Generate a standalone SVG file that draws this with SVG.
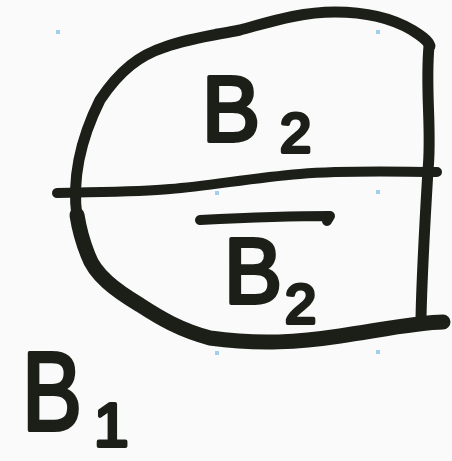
<svg xmlns="http://www.w3.org/2000/svg" width="452" height="461" viewBox="0 0 452 461">
<style>
.ink{fill:none;stroke:#1c1f18;stroke-linecap:round;stroke-linejoin:round}
.lbl{font-family:"Liberation Sans",Arial,sans-serif;fill:#1c1f18;stroke:#1c1f18;stroke-width:4;stroke-linejoin:round}
.dot{fill:#9fd0ee}
</style>
<rect width="452" height="461" fill="#fafafa"/>
<g id="grid">
<rect class="dot" x="56" y="30" width="4" height="4"/>
<rect class="dot" x="215" y="28" width="4" height="4"/>
<rect class="dot" x="376" y="30" width="4" height="4"/>
<rect class="dot" x="55" y="190" width="4" height="4"/>
<rect class="dot" x="215" y="191" width="4" height="4"/>
<rect class="dot" x="376" y="190" width="4" height="4"/>
<rect class="dot" x="215" y="351" width="4" height="4"/>
<rect class="dot" x="376" y="350" width="4" height="4"/>
</g>
<g id="outline">
<path class="ink" stroke-width="11" d="M77,217 C72,180 80,140 100,100 C120,70 140,55 165,47 C190,38 215,35 240,30 C270,22 300,12 335,12 C370,12 395,20 412,30 C420,35 428,40 430,46"/>
<path class="ink" stroke-width="11" d="M429,46 C425,90 432,130 428,170 C425,220 422,270 421,318"/>
<path class="ink" stroke-width="15" d="M443,322 C420,322 380,330 340,336 C300,342 260,345 210,338 C180,330 160,318 140,305 C115,290 95,275 88,255 C82,240 79,228 77,215"/>
</g>
<g id="divider">
<path class="ink" stroke-width="10" d="M57,193 C90,192 140,192 170,189 C210,186 250,178 300,174 C350,170 400,172 437,172"/>
</g>
<g id="top-label">
<text class="lbl" x="202" y="141" font-size="92" textLength="58" lengthAdjust="spacingAndGlyphs">B</text>
<text class="lbl" x="280" y="152" font-size="56">2</text>
</g>
<g id="bottom-label">
<path class="ink" stroke-width="10" d="M200,220 C240,218 290,216 330,216 L327,221"/>
<text class="lbl" x="224" y="303" font-size="92" textLength="58" lengthAdjust="spacingAndGlyphs">B</text>
<text class="lbl" x="285" y="323" font-size="56">2</text>
</g>
<g id="b1-label">
<text class="lbl" x="22" y="430" font-size="112" textLength="60" lengthAdjust="spacingAndGlyphs">B</text>
<text class="lbl" x="94" y="446" font-size="62">1</text>
</g>
</svg>
